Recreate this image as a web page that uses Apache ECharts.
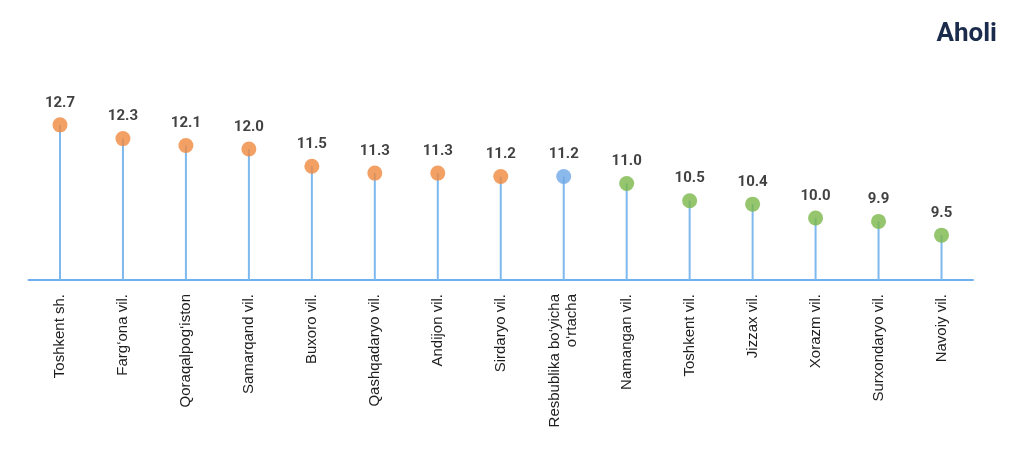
<!DOCTYPE html>
<html>
<head>
<meta charset="utf-8">
<script src="https://cdn.jsdelivr.net/npm/echarts@6/dist/echarts.min.js"></script>
<style>
html,body{margin:0;padding:0;background:#fff;}
#main{width:1024px;height:460px;}
</style>
</head>
<body>
<div id="main"></div>
<script>
const categories = ["Toshkent sh.", "Farg\u2018ona vil.", "Qoraqalpog\u2018iston", "Samarqand vil.", "Buxoro vil.", "Qashqadaryo vil.", "Andijon vil.", "Sirdaryo vil.", "Resbublika bo\u2018yicha\no\u2018rtacha", "Namangan vil.", "Toshkent vil.", "Jizzax vil.", "Xorazm vil.", "Surxondaryo vil.", "Navoiy vil."];
const values = [12.7, 12.3, 12.1, 12.0, 11.5, 11.3, 11.3, 11.2, 11.2, 11.0, 10.5, 10.4, 10.0, 9.9, 9.5];
const groups = ["high", "high", "high", "high", "high", "high", "high", "high", "avg", "low", "low", "low", "low", "low", "low"];
const groupColors = { high: "#F0883E", avg: "#6FA8E6", low: "#7AB648" };
const title = "Aholi";

const chart = echarts.init(document.getElementById('main'));
chart.setOption({
  backgroundColor: '#ffffff',
  animation: false,
  title: {
    text: title,
    right: 22,
    top: 16,
    textStyle: { fontFamily: 'Roboto, sans-serif', fontWeight: 'bold', fontSize: 26, color: '#1B2B4B' }
  },
  grid: { left: 28.5, right: 51, top: 80, bottom: 180, containLabel: false },
  xAxis: {
    type: 'category',
    data: categories,
    boundaryGap: true,
    axisLine: { lineStyle: { color: '#6FB0EE', width: 2 } },
    axisTick: { show: false },
    axisLabel: {
      rotate: 90,
      interval: 0,
      margin: 14,
      fontFamily: '"Liberation Sans", Arial, sans-serif',
      fontSize: 15,
      color: '#1e1e1e',
      lineHeight: 17
    }
  },
  yAxis: {
    type: 'value',
    min: 8.2,
    max: 14,
    show: false,
    splitLine: { show: false }
  },
  series: [
    {
      type: 'bar',
      data: values,
      barWidth: 2,
      itemStyle: { color: '#7DB8EE' },
      silent: true
    },
    {
      type: 'scatter',
      data: values.map((v, i) => ({ value: v, itemStyle: { color: groupColors[groups[i]] } })),
      symbolSize: 15,
      z: 5,
      label: {
        show: true,
        position: 'top',
        distance: 7,
        formatter: p => p.value.toFixed(1),
        fontFamily: 'Roboto, sans-serif',
        fontWeight: 'bold',
        fontSize: 15,
        color: '#111111'
      }
    }
  ]
});
</script>
</body>
</html>
